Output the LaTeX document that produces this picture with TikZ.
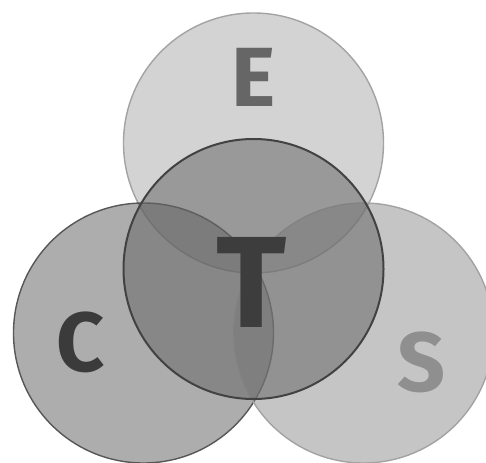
\documentclass[tikz,border=0pt]{standalone}
\usepackage{fontspec}
\setmainfont{Fira Sans}
\definecolor{efill}{gray}{0.655}
\definecolor{cfill}{gray}{0.357}
\definecolor{sfill}{gray}{0.545}
\definecolor{tfill}{gray}{0.40}
\definecolor{lightedge}{gray}{0.64}
\definecolor{darkedge}{gray}{0.34}
\definecolor{tedge}{gray}{0.26}
\begin{document}
\begin{tikzpicture}[x=1pt, y=-1pt,
		ring/.style={circle, minimum size=260pt, inner sep=0pt, line width=1.4pt, fill opacity=0.5},
		letter/.style={inner sep=0pt, font=\bfseries\fontsize{84}{84}\selectfont}]
	\useasboundingbox (0,0) rectangle (486,462);
	% outer circles
	\node[ring, draw=lightedge, fill=efill] (ecirc) at (253.5, 143) {};
	\node[ring, draw=darkedge, fill=cfill] (ccirc) at (143.5, 333) {};
	\node[ring, draw=lightedge, fill=sfill] (scirc) at (363.5, 333) {};
	% centre circle
	\node[ring, draw=tedge, fill=tfill, line width=2pt, fill opacity=0.53] (tcirc) at (253.5, 269) {};
	% letters
	\node[letter, text=black!60] (elabel) at (254, 77) {E};
	\node[letter, text=black!77] (clabel) at (81, 342) {C};
	\node[letter, text=black!44] (slabel) at (422, 362) {S};
	\node[letter, text=black!76, font=\bfseries\fontsize{130}{130}\selectfont] (tlabel) at (252, 282) {T};
\end{tikzpicture}
\end{document}
